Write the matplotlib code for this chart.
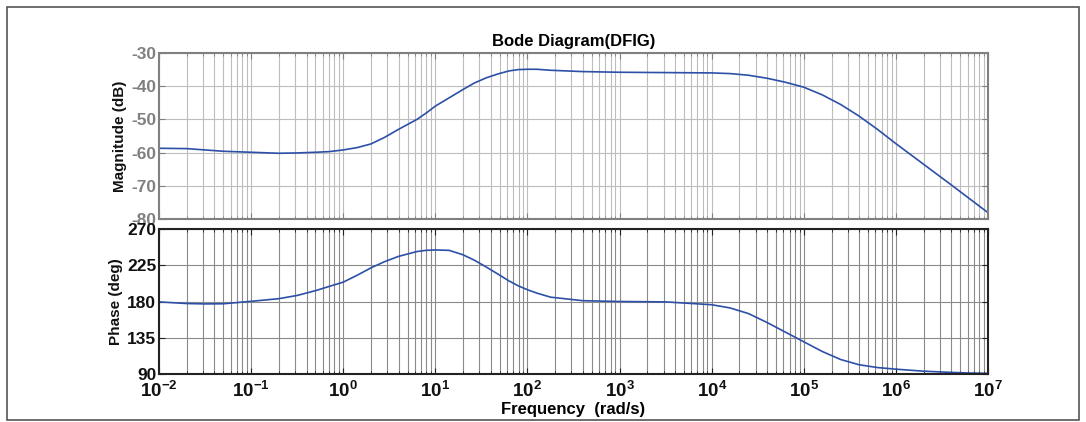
import numpy as np
import matplotlib
matplotlib.use("Agg")
import matplotlib.pyplot as plt
from matplotlib.ticker import LogLocator, FixedLocator, NullFormatter
from matplotlib.patches import Rectangle

# Data (frequency given as log10 of rad/s)
log_freq = [-2, -1.7, -1.5, -1.3, -1, -0.7, -0.5, -0.3, -0.15, 0, 0.15, 0.3, 0.45,
            0.6, 0.8, 0.9, 1.0, 1.15, 1.3, 1.42, 1.55, 1.68, 1.8, 1.9, 2.0, 2.1,
            2.25, 2.6, 3, 3.5, 4, 4.2, 4.4, 4.6, 4.8, 5, 5.2, 5.4, 5.6, 5.8, 6,
            6.3, 6.6, 6.8, 7]
magnitude = [-58.7, -58.8, -59.2, -59.6, -59.9, -60.2, -60.1, -59.9, -59.7, -59.2,
             -58.5, -57.4, -55.4, -53.0, -50.0, -48.1, -46.0, -43.5, -41.0, -39.1,
             -37.5, -36.3, -35.4, -35.0, -34.9, -34.9, -35.2, -35.6, -35.8, -35.9,
             -36.0, -36.2, -36.7, -37.6, -38.8, -40.3, -42.6, -45.5, -49.0, -53.0,
             -57.3, -63.5, -69.7, -73.9, -78.1]
phase = [179.5, 177.5, 177.0, 177.2, 180.2, 183.5, 187.5, 193.5, 198.8, 204.0,
         212.5, 221.7, 229.5, 236.0, 242.0, 243.5, 244.0, 243.5, 238.0, 231.5,
         223.0, 214.0, 205.5, 199.5, 194.6, 190.5, 185.4, 181.0, 180.0, 179.5,
         176.0, 172.0, 165.0, 154.0, 142.0, 130.0, 118.0, 108.0, 101.5, 98.0,
         96.0, 93.5, 92.0, 91.2, 90.8]

title = "Bode Diagram(DFIG)"
xlabel = "Frequency  (rad/s)"
mag_label = "Magnitude (dB)"
phase_label = "Phase (deg)"
mag_ticks = [-80, -70, -60, -50, -40, -30]
phase_ticks = [90, 135, 180, 225, 270]

freq = 10.0 ** np.array(log_freq)

plt.rcParams['font.family'] = ['Liberation Sans', 'DejaVu Sans']
plt.rcParams['font.weight'] = 'bold'
plt.rcParams['mathtext.fontset'] = 'custom'
plt.rcParams['mathtext.rm'] = 'Liberation Sans:bold'
plt.rcParams['mathtext.it'] = 'Liberation Sans:bold'
plt.rcParams['mathtext.bf'] = 'Liberation Sans:bold'
plt.rcParams['mathtext.sf'] = 'Liberation Sans:bold'

fig = plt.figure(figsize=(10.86, 4.22), dpi=100)
W, H = 1086, 422

def pos(x0, y0, x1, y1):
    return [x0 / W, 1 - y1 / H, (x1 - x0) / W, (y1 - y0) / H]

# outer frame
fig.patches.append(Rectangle((7 / W, 1 - 420 / H), (1079 - 7) / W, (420 - 7) / H,
                             transform=fig.transFigure, fill=False,
                             edgecolor='#555555', linewidth=1.2))

ax1 = fig.add_axes(pos(159, 53, 988, 219))
ax2 = fig.add_axes(pos(159, 229, 988, 374))

line_color = '#2d4fa8'
ax1.semilogx(freq, magnitude, color=line_color, lw=1.2)
ax2.semilogx(freq, phase, color=line_color, lw=1.2, clip_on=False)

for ax, grid_col, spine_col, lab_col in [(ax1, '#bdbdbd', '#808080', '#808080'),
                                           (ax2, '#8a8a8a', '#222222', '#111111')]:
    ax.set_xlim(1e-2, 1e7)
    ax.xaxis.set_major_locator(LogLocator(base=10, numticks=20))
    ax.xaxis.set_minor_locator(LogLocator(base=10, subs=np.arange(2, 10), numticks=200))
    ax.xaxis.set_minor_formatter(NullFormatter())
    ax.grid(True, which='both', axis='x', color=grid_col, lw=0.8)
    ax.grid(True, which='major', axis='y', color=grid_col, lw=0.8)
    ax.tick_params(which='both', direction='in', top=True, right=True,
                   colors=spine_col, labelcolor=lab_col, labelsize=12.5)
    ax.tick_params(which='major', length=4)
    ax.tick_params(which='minor', length=2)
    for s in ax.spines.values():
        s.set_color(spine_col)
        s.set_linewidth(1.5)

ax1.set_ylim(-80, -30)
ax1.yaxis.set_major_locator(FixedLocator(mag_ticks))
ax1.set_yticklabels([str(v) for v in mag_ticks], fontweight='bold', color='#808080')
ax1.tick_params(axis='y', pad=2)
ax1.tick_params(axis='x', labelbottom=False)
ax1.set_ylabel(mag_label, fontsize=11, fontweight='bold', color='#111111', labelpad=3)
ax1.set_title(title, fontsize=12, fontweight='bold', pad=5)

ax2.set_ylim(90, 270)
ax2.yaxis.set_major_locator(FixedLocator(phase_ticks))
ax2.set_yticklabels([str(v) for v in phase_ticks], fontweight='bold')
ax2.tick_params(axis='y', pad=2)
ax2.set_ylabel(phase_label, fontsize=11, fontweight='bold', color='#111111', labelpad=3)
ax2.set_xlabel(xlabel, fontsize=12, fontweight='bold', labelpad=1)
ax2.tick_params(axis='x', labelsize=13.5, pad=5)

fig.savefig("out.png", dpi=100)
